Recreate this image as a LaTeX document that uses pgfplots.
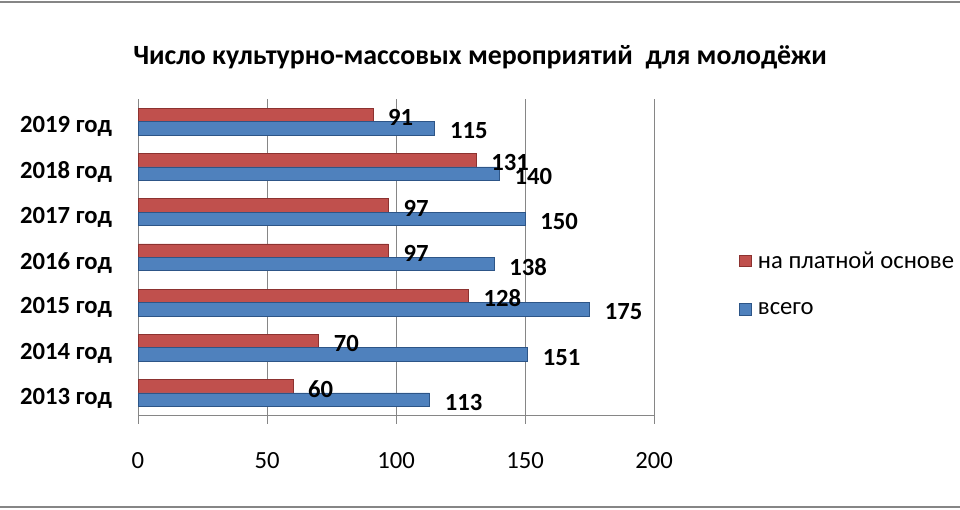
\documentclass[border=0pt]{standalone}
\usepackage{pgfplots}
\pgfplotsset{compat=1.18}
\usepackage{fontspec}
\setmainfont{Carlito}
\definecolor{cred}{RGB}{192,80,77}
\definecolor{cblue}{RGB}{79,129,189}
\definecolor{credd}{RGB}{140,50,48}
\definecolor{cblued}{RGB}{45,85,135}
\definecolor{gridc}{RGB}{134,134,134}
\pgfplotstableread{
y total paid
0 113 60
1 151 70
2 175 128
3 138 97
4 150 97
5 140 131
6 115 91
}\datatable
\begin{document}
\begin{tikzpicture}
\path[use as bounding box] (0,0) rectangle (720pt,382.5pt);
\draw[gridc,line width=1.5pt] (0,381pt) -- (720pt,381pt);
\draw[gridc,line width=1.5pt] (0,2.25pt) -- (720pt,2.25pt);
\node[font=\fontsize{20.9}{24}\selectfont\bfseries] at (360pt,339.75pt) {Число культурно-массовых мероприятий\ \ для молодёжи};
\begin{axis}[
  at={(103.5pt,70.8pt)}, anchor=south west,
  scale only axis, width=387pt, height=237.5pt,
  xbar, xmin=0, xmax=200, ymin=-0.5, ymax=6.5,
  xtick={0,50,100,150,200},
  ytick={0,1,2,3,4,5,6},
  yticklabels={2013 год,2014 год,2015 год,2016 год,2017 год\hspace{4.5pt},2018 год\hspace{4.5pt},2019 год},
  axis x line*=bottom, axis y line*=left,
  axis line style={gridc},
  x axis line style={-}, y axis line style={-},
  xmajorgrids, grid style={gridc},
  major x tick style={gridc, line width=0.6pt},
  xtick align=outside, major tick length=6pt,
  ytick style={draw=none},
  tick label style={font=\fontsize{18.5}{22}\selectfont},
  xticklabel style={yshift=-18pt},
  yticklabel style={font=\fontsize{18.5}{22}\selectfont\bfseries, xshift=-10pt, yshift=-4pt},
  /pgf/number format/assume math mode=true,
  bar width=10.1pt,
  nodes near coords,
  every node near coord/.append style={font=\fontsize{18.5}{22}\selectfont\bfseries, xshift=8pt, yshift=-2pt, text=black},
  legend style={at={(1.165,0.415)}, anchor=west, draw=none, fill=none, inner sep=0pt,
    font=\fontsize{18.5}{22}\selectfont, row sep=20pt, legend cell align=left},
  legend image code/.code={\fill[#1] (0pt,-4pt) rectangle (8.5pt,4.5pt);},
]
\addplot[fill=cred, draw=credd, line width=0.4pt, bar shift=5.05pt] table[x=paid,y=y] {\datatable};
\addlegendentry{\hspace{3pt}на платной основе}
\addplot[fill=cblue, draw=cblued, line width=0.4pt, bar shift=-5.05pt] table[x=total,y=y] {\datatable};
\addlegendentry{\hspace{3pt}всего}
\end{axis}
\end{tikzpicture}
\end{document}
